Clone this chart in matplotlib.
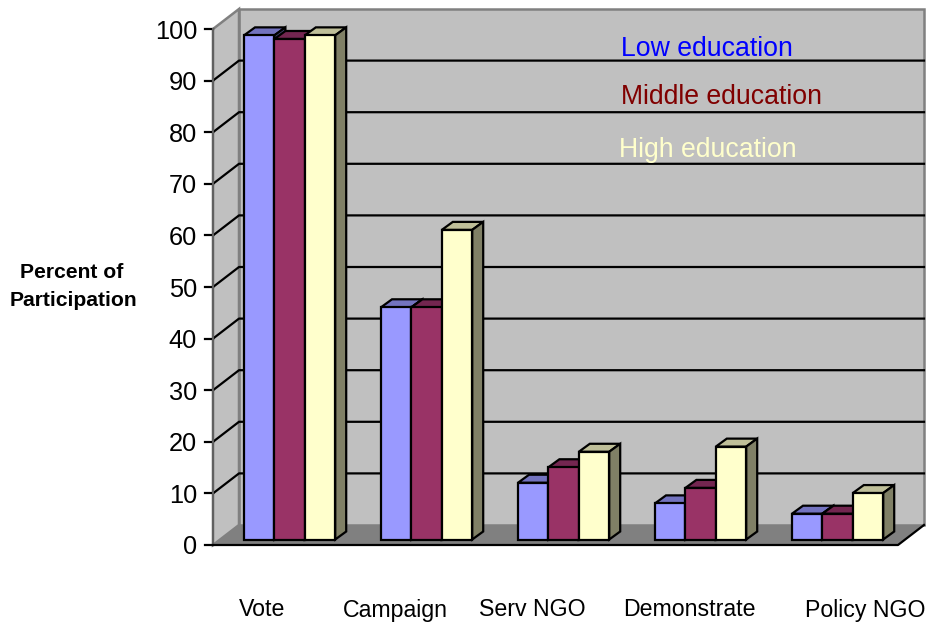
"""Grouped 3D-look column chart of participation by education level."""
import numpy as np
import matplotlib
matplotlib.use("Agg")
import matplotlib.pyplot as plt
from matplotlib.patches import Polygon

plt.rcParams["font.family"] = ["Liberation Sans", "DejaVu Sans"]

categories = ["Vote", "Campaign", "Serv NGO", "Demonstrate", "Policy NGO"]
low_education = [97.7, 45, 11, 7, 5]
middle_education = [97, 45, 14, 10, 5]
high_education = [97.7, 60, 17, 18, 9]
y_ticks = [0, 10, 20, 30, 40, 50, 60, 70, 80, 90, 100]

series = [
    ("Low education", low_education, "#9999FF", "#7373BF", "#4C4C80", "#0000FF"),
    ("Middle education", middle_education, "#993366", "#732650", "#4C1A33", "#800000"),
    ("High education", high_education, "#FFFFCC", "#BFBF99", "#808066", "#FFFFCC"),
]

W, H = 926, 622
PX_PER_CAT = 137.0
PX_PER_PCT = 5.16
X0_PX = 289.5   # pixel column of the first category
Y0_PX = 545.0   # pixel row of 0 on the front edge
LW = 1.6


def ux(px):
    return (px - X0_PX) / PX_PER_CAT


def uy(py):
    return (Y0_PX - py) / PX_PER_PCT


# depth of the box and of the columns, in data units
box_dx, box_dy = 26 / PX_PER_CAT, 20 / PX_PER_PCT
bar_dx, bar_dy = 11 / PX_PER_CAT, 8 / PX_PER_PCT
bar_w = 30.4 / PX_PER_CAT
base = uy(539.5)

fig = plt.figure(figsize=(W / 100, H / 100), dpi=100)
ax = fig.add_axes([0, 0, 1, 1])
ax.set_xlim(ux(0), ux(W))
ax.set_ylim(uy(H), uy(0))
ax.axis("off")

left, right = ux(213), ux(898)

# walls and floor
ax.add_patch(Polygon([(left + box_dx, box_dy), (right + box_dx, box_dy),
                      (right + box_dx, 100 + box_dy), (left + box_dx, 100 + box_dy)],
                     fc="#C0C0C0", ec="#808080", lw=1.8, zorder=1))
ax.add_patch(Polygon([(left, 0), (left + box_dx, box_dy),
                      (left + box_dx, 100 + box_dy), (left, 100)],
                     fc="#C0C0C0", ec="#808080", lw=1.8, zorder=1))
ax.add_patch(Polygon([(left, 0), (left + box_dx, box_dy),
                      (right + box_dx, box_dy), (right, 0)],
                     fc="#808080", ec="none", zorder=1))

# gridlines run across the side wall and the back wall
for t in y_ticks[1:-1]:
    ax.plot([left, left + box_dx, right + box_dx],
            [t, t + box_dy, t + box_dy], color="black", lw=LW, zorder=2)
for t in y_ticks:
    ax.plot([ux(205), left], [t, t], color="black", lw=LW, zorder=2)
    ax.text(ux(197), t, str(t), ha="right", va="center_baseline", fontsize=18.3,
            color="black")
ax.plot([left, left], [0, 100], color="#606060", lw=1.5, zorder=2)
ax.plot([left, right, right + box_dx], [0, 0, box_dy], color="black", lw=LW, zorder=2)

# columns, painted left to right so each one hides the side of the previous
first = -1.5 * bar_w + (244 + 45.6 - X0_PX) / PX_PER_CAT
for i in range(len(categories)):
    for k, (name, values, front, top, side, _) in enumerate(series):
        x = i + first + k * bar_w
        v = values[i]
        z = 3 + i + k * 0.1
        ax.bar(x, v, width=bar_w, bottom=base, align="edge",
               color=front, edgecolor="black", lw=LW, zorder=z + 0.05)
        ax.add_patch(Polygon([(x, base + v), (x + bar_dx, base + v + bar_dy),
                              (x + bar_w + bar_dx, base + v + bar_dy), (x + bar_w, base + v)],
                             fc=top, ec="black", lw=LW, zorder=z))
        ax.add_patch(Polygon([(x + bar_w, base), (x + bar_w + bar_dx, base + bar_dy),
                              (x + bar_w + bar_dx, base + v + bar_dy), (x + bar_w, base + v)],
                             fc=side, ec="black", lw=LW, zorder=z))

# hand-placed legend text on the back wall
legend_pos = [(621, 49), (621, 97), (619, 150)]
for (name, _, _, _, _, color), (px, py) in zip(series, legend_pos):
    ax.text(ux(px), uy(py), name, color=color, fontsize=19.2, ha="left",
            va="center", zorder=20)

# category labels sit below the floor at uneven spacing
label_px = [262, 395, 532, 689, 865]
for name, px in zip(categories, label_px):
    ax.text(ux(px), uy(610), name, ha="center", va="center", fontsize=16.7)

ax.text(ux(72), uy(272), "Percent of", ha="center", va="center",
        fontsize=15.2, fontweight="bold")
ax.text(ux(73), uy(300), "Participation", ha="center", va="center",
        fontsize=15.2, fontweight="bold")

fig.savefig("out.png", dpi=100, facecolor="white")
